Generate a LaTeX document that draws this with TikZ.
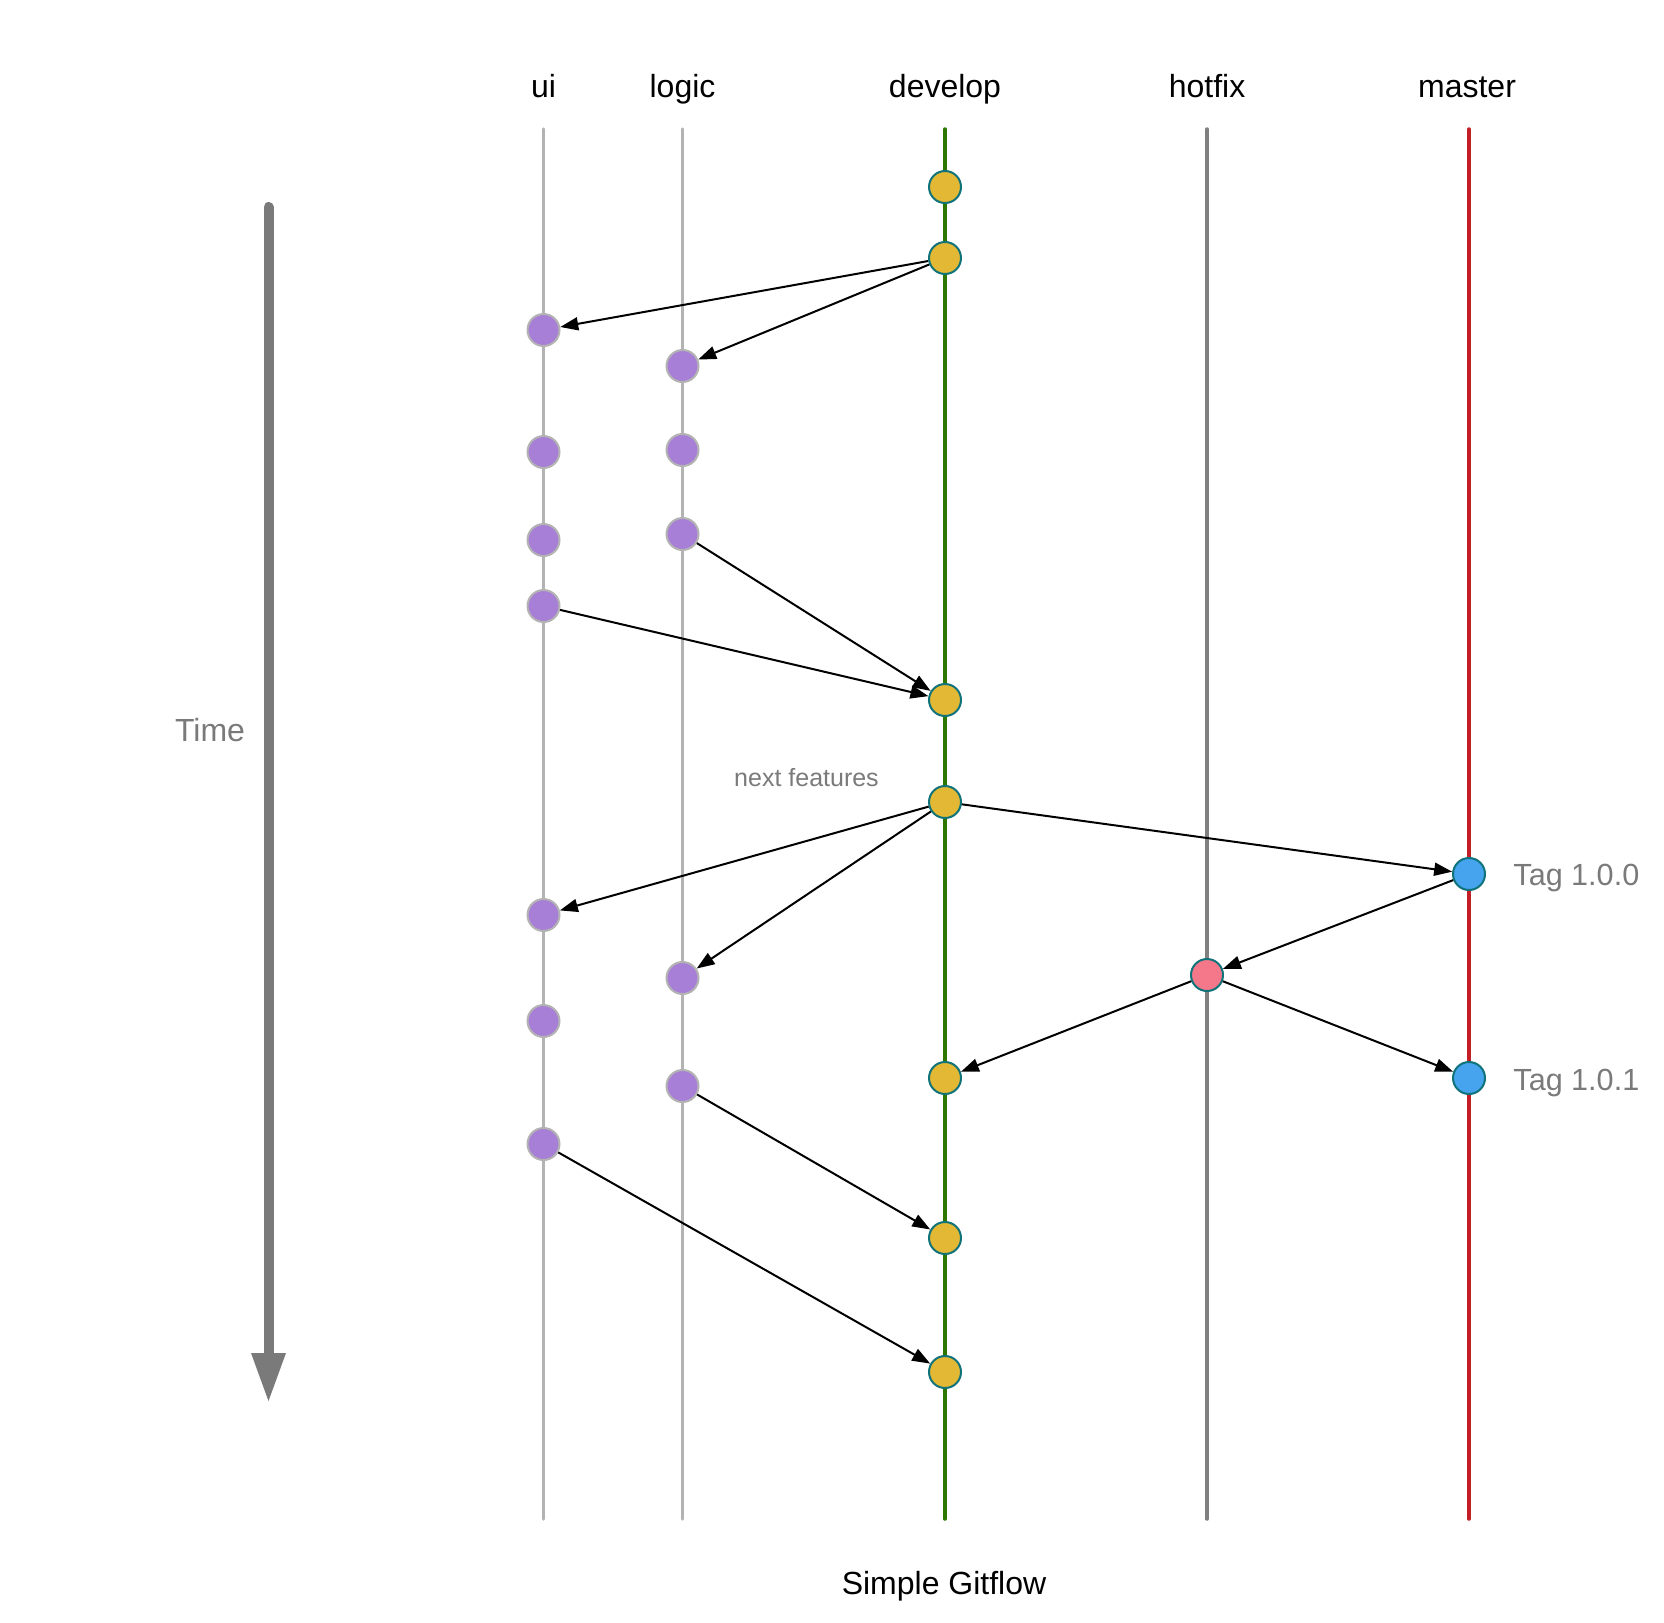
\documentclass[tikz,border=0pt]{standalone}
\usepackage{fontspec}
\setmainfont{Liberation Sans}
\usetikzlibrary{arrows.meta}
\definecolor{devfill}{HTML}{E3B835}
\definecolor{teal}{HTML}{10737A}
\definecolor{purp}{HTML}{A87FD6}
\definecolor{lgray}{HTML}{B3B3B3}
\definecolor{dgreen}{HTML}{2D7600}
\definecolor{mred}{HTML}{C21F27}
\definecolor{bluef}{HTML}{46A3EE}
\definecolor{pinkf}{HTML}{F5788A}
\definecolor{hgray}{HTML}{808080}
\definecolor{tgray}{HTML}{7A7A7A}
\tikzset{
  commit/.style={circle, minimum size=16pt, inner sep=0pt, line width=1pt},
  devc/.style={commit, fill=devfill, draw=teal},
  featc/.style={commit, fill=purp, draw=lgray},
  masterc/.style={commit, fill=bluef, draw=teal},
  hotc/.style={commit, fill=pinkf, draw=teal},
  branchline/.style={line width=1.75pt, line cap=round},
  flow/.style={line width=1pt, -{Triangle[length=9pt,width=6.5pt]}},
  blabel/.style={font=\fontsize{16pt}{18pt}\selectfont, anchor=base, inner sep=0pt},
  taglabel/.style={font=\fontsize{15.3pt}{18pt}\selectfont, text=tgray, anchor=base west, inner sep=0pt}
}
\begin{document}
\begin{tikzpicture}[x=0.5pt,y=-0.5pt]
\useasboundingbox (0,0) rectangle (1664,1622);
% branch lines
\coordinate (uiT) at (543.5,129); \coordinate (uiB) at (543.5,1519);
\coordinate (lgT) at (682.5,129); \coordinate (lgB) at (682.5,1519);
\coordinate (dvT) at (945,129); \coordinate (dvB) at (945,1519);
\coordinate (hfT) at (1207,129); \coordinate (hfB) at (1207,1519);
\coordinate (msT) at (1469,129); \coordinate (msB) at (1469,1519);
\draw[branchline, draw=lgray] (uiT) -- (uiB);
\draw[branchline, draw=lgray] (lgT) -- (lgB);
\draw[branchline, draw=dgreen] (dvT) -- (dvB);
\draw[branchline, draw=hgray] (hfT) -- (hfB);
\draw[branchline, draw=mred] (msT) -- (msB);
% branch labels
\node[blabel] (Lui) at (543.5,97) {ui};
\node[blabel] (Llg) at (682.5,97) {logic};
\node[blabel] (Ldv) at (945,97) {develop};
\node[blabel] (Lhf) at (1207,97) {hotfix};
\node[blabel] (Lms) at (1467,97) {master};
% time arrow
\coordinate (tA) at (268.5,207);
\coordinate (tB) at (268.5,1358);
\draw[line width=5pt, line cap=round, draw=tgray] (tA) -- (tB);
\fill[tgray] (251,1353) -- (286,1353) -- (268.5,1401) -- cycle;
\node[font=\fontsize{16pt}{18pt}\selectfont, text=tgray, anchor=base, inner sep=0pt] (time) at (210,741) {Time};
% develop commits
\node[devc] (d1) at (945,187) {};
\node[devc] (d2) at (945,258) {};
\node[devc] (d3) at (945,700) {};
\node[devc] (d4) at (945,802) {};
\node[devc] (d5) at (945,1078) {};
\node[devc] (d6) at (945,1238) {};
\node[devc] (d7) at (945,1372) {};
% ui commits
\node[featc] (u1) at (543.5,330) {};
\node[featc] (u2) at (543.5,452) {};
\node[featc] (u3) at (543.5,540) {};
\node[featc] (u4) at (543.5,606) {};
\node[featc] (u5) at (543.5,915) {};
\node[featc] (u6) at (543.5,1021) {};
\node[featc] (u7) at (543.5,1144) {};
% logic commits
\node[featc] (l1) at (682.5,366) {};
\node[featc] (l2) at (682.5,450) {};
\node[featc] (l3) at (682.5,534) {};
\node[featc] (l4) at (682.5,978) {};
\node[featc] (l5) at (682.5,1086) {};
% master / hotfix
\node[masterc] (m1) at (1469,874) {};
\node[masterc] (m2) at (1469,1078) {};
\node[hotc] (h1) at (1207,975) {};
% tags
\node[taglabel] (t1) at (1513,885.5) {Tag 1.0.0};
\node[taglabel] (t2) at (1513,1090.5) {Tag 1.0.1};
% next features
\node[font=\fontsize{12.5pt}{14pt}\selectfont, text=tgray, anchor=base, inner sep=0pt] (nf) at (806.5,786) {next features};
% caption
\node[blabel] (cap) at (944,1594) {Simple Gitflow};
% flows
\draw[flow] (d2) -- (u1);
\draw[flow] (d2) -- (l1);
\draw[flow] (l3) -- (d3);
\draw[flow] (u4) -- (d3);
\draw[flow] (d4) -- (u5);
\draw[flow] (d4) -- (l4);
\draw[flow] (d4) -- (m1);
\draw[flow] (m1) -- (h1);
\draw[flow] (h1) -- (d5);
\draw[flow] (h1) -- (m2);
\draw[flow] (l5) -- (d6);
\draw[flow] (u7) -- (d7);
\end{tikzpicture}
\end{document}
